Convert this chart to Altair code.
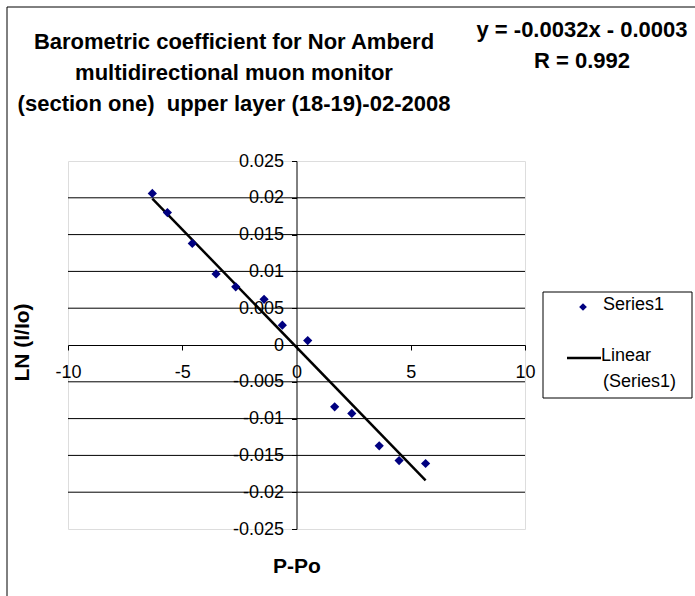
import altair as alt
import pandas as pd

# ---- data ----
x_vals = [-6.31, -5.65, -4.56, -3.52, -2.66, -1.42, -0.62, 0.49, 1.67, 2.42, 3.62, 4.49, 5.65]
y_vals = [0.0206, 0.0180, 0.0138, 0.00965, 0.0079, 0.0062, 0.0027, 0.0006,
          -0.0084, -0.0093, -0.0137, -0.0157, -0.0161]
slope = -0.0032
intercept = -0.0003
x_ticks = [-10, -5, 0, 5, 10]
y_ticks = [-0.025, -0.02, -0.015, -0.01, -0.005, 0, 0.005, 0.01, 0.015, 0.02, 0.025]
grid_vals = [-0.02, -0.015, -0.01, -0.005, 0.005, 0.01, 0.015, 0.02]
title_lines = ["Barometric coefficient for Nor Amberd",
               "multidirectional muon monitor",
               "(section one)\u00a0 upper layer (18-19)-02-2008"]
equation_lines = ["y = -0.0032x - 0.0003", "R = 0.992"]
series_name = "Series1"
trend_name = ["Linear", "(Series1)"]
x_title = "P-Po"
y_title = "LN (I/Io)"

FONT = "Liberation Sans, Arial, sans-serif"
W, H = 457, 368
L, T = 68, 161

pts = pd.DataFrame({"x": x_vals, "y": y_vals})
xmin, xmax = min(x_vals), max(x_vals)
trend = pd.DataFrame({"x": [xmin, xmax],
                      "y": [slope * xmin + intercept, slope * xmax + intercept]})
grid = pd.DataFrame({"y": grid_vals})
one = pd.DataFrame({"k": [0]})

X = alt.X("x:Q",
          scale=alt.Scale(domain=[-10, 10], nice=False, zero=False),
          axis=alt.Axis(values=x_ticks, offset=-H / 2, labelExpr="'' + datum.value",
                        labelFont=FONT, labelFontSize=18, labelColor="black",
                        labelPadding=13, labelFlush=False, labelOverlap=False,
                        tickColor="black", tickSize=5, domainColor="black", domainWidth=1,
                        grid=False, title=x_title, titleFont=FONT, titleFontSize=21,
                        titleFontWeight="bold", titleColor="black",
                        titleX=W / 2, titleY=566 - T - H / 2, titleBaseline="middle",
                        titleAlign="center"))
Y = alt.Y("y:Q",
          scale=alt.Scale(domain=[-0.025, 0.025], nice=False, zero=False),
          axis=alt.Axis(values=y_ticks, offset=-W / 2, labelExpr="'' + datum.value",
                        labelFont=FONT, labelFontSize=18, labelColor="black",
                        labelPadding=8, labelFlush=False, labelOverlap=False,
                        tickColor="black", tickSize=5, domainColor="black", domainWidth=1,
                        grid=False, title=y_title, titleFont=FONT, titleFontSize=21,
                        titleFontWeight="bold", titleColor="black",
                        titleX=22 - L - W / 2, titleY=342 - T, titleAngle=270,
                        titleBaseline="middle", titleAlign="center"))

gridlines = alt.Chart(grid).mark_rule(color="black", strokeWidth=1).encode(y=Y)
line = alt.Chart(trend).mark_line(color="black", strokeWidth=2.5).encode(x=X, y=Y)
points = alt.Chart(pts).mark_point(shape="diamond", filled=True, size=85,
                                   color="#000080", opacity=1).encode(x=X, y=Y)

frame = alt.Chart(one).mark_rect(fill=None, stroke="black", strokeWidth=1).encode(
    x=alt.value(7 - L), x2=alt.value(705 - L), y=alt.value(7 - T), y2=alt.value(606 - T))

title = alt.Chart(one).mark_text(font=FONT, fontSize=22, fontWeight="bold", color="black",
                                 align="center", baseline="middle", lineHeight=31).encode(
    x=alt.value(234 - L), y=alt.value(42 - T), text=alt.value(title_lines))

eq1 = alt.Chart(one).mark_text(font=FONT, fontSize=22, fontWeight="bold", color="black",
                               align="center", baseline="middle").encode(
    x=alt.value(582 - L), y=alt.value(30 - T), text=alt.value(equation_lines[0]))
eq2 = alt.Chart(one).mark_text(font=FONT, fontSize=22, fontWeight="bold", color="black",
                               align="center", baseline="middle").encode(
    x=alt.value(582 - L), y=alt.value(61 - T), text=alt.value(equation_lines[1]))

leg_box = alt.Chart(one).mark_rect(fill="white", stroke="black", strokeWidth=1).encode(
    x=alt.value(543 - L), x2=alt.value(692 - L), y=alt.value(292 - T), y2=alt.value(398 - T))
leg_pt = alt.Chart(one).mark_point(shape="diamond", filled=True, size=60, color="#000080",
                                   opacity=1).encode(x=alt.value(583 - L), y=alt.value(307 - T))
leg_t1 = alt.Chart(one).mark_text(font=FONT, fontSize=18, color="black", align="left",
                                  baseline="middle").encode(
    x=alt.value(603 - L), y=alt.value(305 - T), text=alt.value(series_name))
leg_line = alt.Chart(one).mark_rule(color="black", strokeWidth=2.5).encode(
    x=alt.value(567 - L), x2=alt.value(601 - L), y=alt.value(358 - T))
leg_t2 = alt.Chart(one).mark_text(font=FONT, fontSize=18, color="black", align="left",
                                  baseline="middle").encode(
    x=alt.value(601 - L), y=alt.value(356 - T), text=alt.value(trend_name[0]))
leg_t3 = alt.Chart(one).mark_text(font=FONT, fontSize=18, color="black", align="left",
                                  baseline="middle").encode(
    x=alt.value(603 - L), y=alt.value(382 - T), text=alt.value(trend_name[1]))

chart = alt.layer(frame, gridlines, line, points, title, eq1, eq2,
                  leg_box, leg_pt, leg_t1, leg_line, leg_t2, leg_t3).properties(
    width=W, height=H,
    autosize=alt.AutoSizeParams(type="none"),
    padding={"left": L, "top": T, "right": 695 - L - W, "bottom": 596 - T - H},
).configure_view(stroke="#8c8c8c", strokeWidth=2).configure(background="white")

chart.save("out.html", embed_options={"renderer": "svg", "actions": False})
